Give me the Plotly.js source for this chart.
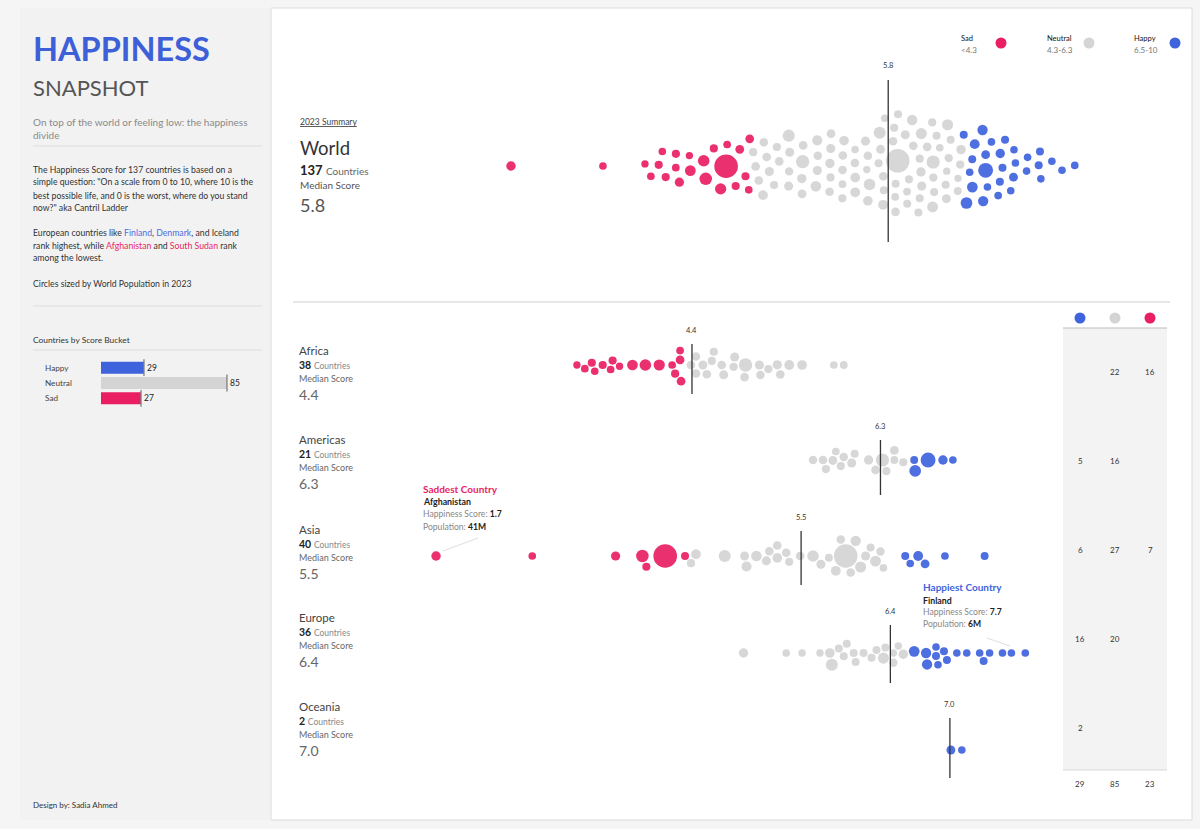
<!DOCTYPE html>
<html><head><meta charset="utf-8">
<script src="https://cdn.plot.ly/plotly-3.0.1.min.js"></script>
<style>html,body{margin:0;padding:0;background:#f5f5f5;}#chart{width:1200px;height:829px;}</style>
</head><body><div id="chart"></div>
<script>
// ---------------- DATA ----------------
const regionNames = ['Africa','Americas','Asia','Europe','Oceania'];
const regionMedians = [4.4, 6.3, 5.5, 6.4, 7.0];
const worldMedian = 5.8;
const worldCount = 137;

const africaScores = [3.24,3.32,3.39,3.42,3.50,3.58,3.60,3.67,3.80,3.93,4.07,4.20,4.23,4.28,4.28,4.29,
  4.39,4.44,4.44,4.51,4.55,4.60,4.62,4.70,4.72,4.82,4.83,4.93,4.94,5.08,5.09,5.17,5.26,5.29,5.38,5.51,5.83,5.93];
const africaPops = [3,6,12,5,12,6,12,3,85,125,105,6,12,22,6,22,
  22,20,18,30,20,12,12,20,30,15,30,20,224,30,18,12,35,20,50,48,6,7];
const africaBuckets = ['Sad','Sad','Sad','Sad','Sad','Sad','Sad','Sad','Sad','Sad','Sad','Sad','Sad','Sad','Sad','Sad',
  'Neutral','Neutral','Neutral','Neutral','Neutral','Neutral','Neutral','Neutral','Neutral','Neutral','Neutral',
  'Neutral','Neutral','Neutral','Neutral','Neutral','Neutral','Neutral','Neutral','Neutral','Neutral','Neutral'];

const americasScores = [5.62,5.72,5.75,5.82,5.85,5.90,5.93,6.01,6.04,6.18,6.25,6.32,6.36,6.44,6.44,6.53,
  6.64,6.65,6.78,6.93,7.03];
const americasPops = [18,20,12,25,6,12,18,30,10,35,20,216,10,8,25,12, 8,128,335,39,5];
const americasBuckets = ['Neutral','Neutral','Neutral','Neutral','Neutral','Neutral','Neutral','Neutral',
  'Neutral','Neutral','Neutral','Neutral','Neutral','Neutral','Neutral','Neutral',
  'Happy','Happy','Happy','Happy','Happy'];

const asiaScores = [1.82,2.79,3.63,3.90,3.94,4.13,4.33,
  4.39,4.44,4.73,4.93,4.95,5.05,5.15,5.18,5.26,5.26,5.35,5.38,5.49,5.62,
  5.70,5.78,5.85,5.90,5.95,6.00,6.05,6.10,6.15,6.20,6.25,6.30,6.33,
  6.55,6.60,6.68,6.75,6.95,7.35];
const asiaPops = [41,5.5,34,173,11,1430,10,
  12,50,150,25,60,80,30,20,45,20,20,12,20,120,
  30,10,50,20,1410,20,70,100,30,10,90,15,5,
  10,5,52,24,6,9.5];
const asiaBuckets = ['Sad','Sad','Sad','Sad','Sad','Sad','Sad',
  'Neutral','Neutral','Neutral','Neutral','Neutral','Neutral','Neutral','Neutral','Neutral','Neutral',
  'Neutral','Neutral','Neutral','Neutral','Neutral','Neutral','Neutral','Neutral','Neutral','Neutral',
  'Neutral','Neutral','Neutral','Neutral','Neutral','Neutral','Neutral',
  'Happy','Happy','Happy','Happy','Happy','Happy'];

const europeScores = [4.92,5.35,5.51,5.69,5.79,5.81,5.88,5.93,5.96,6.03,6.05,6.13,6.21,6.26,6.33,6.35,6.43,6.43,6.48,6.53,
  6.64,6.76,6.77,6.86,6.86,6.88,6.94,6.97,7.07,7.17,7.30,7.34,7.40,7.53,7.62,7.76];
const europePops = [37,6,4,3,45,144,10,10,10,10,10,10,10,10,100,10,3,15,3,40,
  84,68,68,10,5,5,10,10,5,5,5,10,5,5,5,5.5];
const europeBuckets = ['Neutral','Neutral','Neutral','Neutral','Neutral','Neutral','Neutral','Neutral','Neutral','Neutral',
  'Neutral','Neutral','Neutral','Neutral','Neutral','Neutral','Neutral','Neutral','Neutral','Neutral',
  'Happy','Happy','Happy','Happy','Happy','Happy','Happy','Happy','Happy','Happy','Happy','Happy','Happy','Happy','Happy','Happy'];

const oceaniaScores = [7.01, 7.12];
const oceaniaPops = [26, 5];
const oceaniaBuckets = ['Happy','Happy'];

const bucketNames = ['Happy','Neutral','Sad'];
const bucketTotals = [29, 85, 27];

// ---------------- STYLE / LAYOUT ----------------
const W = 1200, H = 829;
const F = 'Lato, "Open Sans", sans-serif';
const COL = {Happy:'#3f63dd', Neutral:'#d4d4d4', Sad:'#e91e63'};
const px = x => x / W, py = y => 1 - y / H;

// pixel scales (score -> px) for the world swarm and the region swarms
const WA = 338.5, WB = 94.78;
const RA = 255.5, RB = 99.2;

const regionScores = [africaScores, americasScores, asiaScores, europeScores, oceaniaScores];
const regionPops = [africaPops, americasPops, asiaPops, europePops, oceaniaPops];
const regionBuckets = [africaBuckets, americasBuckets, asiaBuckets, europeBuckets, oceaniaBuckets];
const rowY = [365, 460, 556, 653, 750];
const labelY = [350, 439, 529, 617, 706];
const medTop = [344, 440, 531, 625, 718], medBot = [394, 495, 585, 683, 778];
const tableY = [372, 461, 550, 639, 728];

const radius = p => 3.3 + 0.225 * Math.sqrt(p);

// greedy beeswarm (y offsets in px)
function swarm(xs, rs, pad, bigR) {
  const idx = xs.map((_, i) => i).sort((i, j) => {
    const bi = rs[i] > bigR ? 0 : 1, bj = rs[j] > bigR ? 0 : 1;
    return bi !== bj ? bi - bj : xs[i] - xs[j];
  });
  const placed = [], ys = new Array(xs.length).fill(0);
  for (const i of idx) {
    const cands = [0];
    for (const p of placed) {
      const d = rs[i] + p.r + pad, dx = xs[i] - p.x;
      if (Math.abs(dx) < d) { const dy = Math.sqrt(d * d - dx * dx); cands.push(p.y + dy, p.y - dy); }
    }
    cands.sort((a, b) => Math.abs(a) - Math.abs(b));
    let best = 0;
    for (const c of cands) {
      let ok = true;
      for (const p of placed) {
        const d = rs[i] + p.r + pad - 0.01, dx = xs[i] - p.x, dy = c - p.y;
        if (dx * dx + dy * dy < d * d) { ok = false; break; }
      }
      if (ok) { best = c; break; }
    }
    ys[i] = best; placed.push({x: xs[i], y: best, r: rs[i]});
  }
  return ys;
}
// force relaxation (pull to target x and to centre line, resolve collisions)
function relax(tx, y0, rs, pad, iters, kx, ky) {
  const n = tx.length, X = tx.slice(), Y = y0.slice();
  for (let it = 0; it < iters; it++) {
    for (let i = 0; i < n; i++) { X[i] += (tx[i] - X[i]) * kx; Y[i] += (0 - Y[i]) * ky; }
    for (let pass = 0; pass < 2; pass++) {
      for (let i = 0; i < n; i++) for (let j = i + 1; j < n; j++) {
        const dx = X[j] - X[i], dy = Y[j] - Y[i], d = rs[i] + rs[j] + pad, d2 = dx * dx + dy * dy;
        if (d2 < d * d) {
          const dist = Math.sqrt(d2) || 0.01, ov = (d - dist) / 2, ux = dx / dist, uy = dy / dist;
          X[i] -= ux * ov; Y[i] -= uy * ov; X[j] += ux * ov; Y[j] += uy * ov;
        }
      }
    }
  }
  return {X, Y};
}

const traces = [];
// region rows
regionScores.forEach((sc, k) => {
  const rs = regionPops[k].map(radius);
  const off = swarm(sc.map(s => RA + RB * s), rs, 1.2, 6.5);
  traces.push({
    type: 'scatter', mode: 'markers', xaxis: 'x2', yaxis: 'y',
    x: sc, y: off.map(o => rowY[k] + o),
    marker: {size: rs.map(r => 2 * r), color: regionBuckets[k].map(b => COL[b]), opacity: 0.92, line: {width: 0}},
    hovertemplate: regionNames[k] + ': %{x}<extra></extra>', showlegend: false
  });
});
// world
const allScores = [].concat(...regionScores), allPops = [].concat(...regionPops), allBuckets = [].concat(...regionBuckets);
const wr = allPops.map(radius);
const wx = allScores.map(s => WA + WB * s);
const woff = swarm(wx, wr, 6, 6.5);
const rel = relax(wx, woff, wr, 6, 250, 0.06, 0.03);
traces.push({
  type: 'scatter', mode: 'markers', xaxis: 'x', yaxis: 'y',
  x: rel.X.map(v => (v - WA) / WB), y: rel.Y.map(o => 166 + o), customdata: allScores,
  marker: {size: wr.map(r => 2 * r), color: allBuckets.map(b => COL[b]), opacity: 0.92, line: {width: 0}},
  hovertemplate: 'World: %{customdata}<extra></extra>', showlegend: false
});
// bucket bars
traces.push({
  type: 'bar', orientation: 'h', xaxis: 'x3', yaxis: 'y3',
  x: bucketTotals, y: bucketNames, width: 0.78,
  marker: {color: bucketNames.map(b => COL[b]), line: {width: 0}},
  text: bucketTotals.map(String), textposition: 'outside', cliponaxis: false,
  textfont: {family: F, size: 8.5, color: '#222'}, hoverinfo: 'x+y', showlegend: false
});
traces.push({
  type: 'scatter', mode: 'markers', xaxis: 'x3', yaxis: 'y3',
  x: bucketTotals, y: bucketNames, cliponaxis: false,
  marker: {symbol: 'line-ns-open', size: 12, line: {color: '#777', width: 1.3}}, hoverinfo: 'skip', showlegend: false
});

// ---------------- SHAPES ----------------
const shapes = [];
const rect = (x0, y0, x1, y1, fill, line) => shapes.push({type: 'rect', xref: 'paper', yref: 'paper', x0: px(x0), x1: px(x1), y0: py(y1), y1: py(y0), fillcolor: fill, line: line || {width: 0}, layer: 'below'});
const hline = (x0, x1, y, color, w) => shapes.push({type: 'line', xref: 'paper', yref: 'paper', x0: px(x0), x1: px(x1), y0: py(y), y1: py(y), line: {color, width: w || 1}, layer: 'below'});
const circ = (cx, cy, r, fill) => shapes.push({type: 'circle', xref: 'paper', yref: 'paper', x0: px(cx - r), x1: px(cx + r), y0: py(cy + r), y1: py(cy - r), fillcolor: fill, line: {width: 0}});

rect(20, 8, 270, 820, '#f2f2f2');
rect(271, 8, 1192, 820, '#ffffff', {color: '#dcdcdc', width: 1});
hline(33, 262, 146, '#dddddd');
hline(33, 262, 306, '#dddddd');
hline(33, 262, 350, '#dddddd');
hline(293, 1170, 302, '#cfcfcf');
rect(1063, 328, 1167, 770, '#f3f3f3');
hline(1063, 1167, 328, '#bdbdbd');
hline(1063, 1167, 770, '#d8d8d8');
// legend + table header dots
circ(1001, 43, 5.5, COL.Sad); circ(1089, 43, 5.5, COL.Neutral); circ(1175, 43, 5.5, COL.Happy);
const tableX = {Happy: 1080, Neutral: 1115, Sad: 1150};
bucketNames.forEach(b => circ(tableX[b], 318, 5.5, COL[b]));
// median lines
shapes.push({type: 'line', xref: 'x', yref: 'paper', x0: worldMedian, x1: worldMedian, y0: py(242), y1: py(80), line: {color: '#333', width: 1.3}});
regionMedians.forEach((m, k) => shapes.push({type: 'line', xref: 'x2', yref: 'paper', x0: m, x1: m, y0: py(medBot[k]), y1: py(medTop[k]), line: {color: '#333', width: 1.3}}));
// connector lines of callouts
shapes.push({type: 'line', xref: 'paper', yref: 'paper', x0: px(443), x1: px(478), y0: py(551), y1: py(538), line: {color: '#dedede', width: 1}});
shapes.push({type: 'line', xref: 'paper', yref: 'paper', x0: px(987), x1: px(1010), y0: py(638), y1: py(646), line: {color: '#dedede', width: 1}});

// ---------------- ANNOTATIONS ----------------
const anns = [];
const ann = (x, y, text, size, color, o) => anns.push(Object.assign({x: px(x - 2), y: py(y), xref: 'paper', yref: 'paper', text, showarrow: false, xanchor: 'left', yanchor: 'middle', font: {family: F, size, color}}, o || {}));

ann(33, 48, '<b>HAPPINESS</b>', 32.5, '#3d5fd8');
ann(33, 88, 'SNAPSHOT', 22, '#555555');
ann(33, 122, 'On top of the world or feeling low: the happiness', 10, '#8a8a8a');
ann(33, 135, 'divide', 10, '#8a8a8a');
const para = [
  [169, 'The Happiness Score for 137 countries is based on a'],
  [182, 'simple question: "On a scale from 0 to 10, where 10 is the'],
  [195, 'best possible life, and 0 is the worst, where do you stand'],
  [207, 'now?" aka Cantril Ladder'],
  [232, 'European countries like <span style="color:#4a6ee0">Finland</span>, <span style="color:#4a6ee0">Denmark</span>, and Iceland'],
  [245, 'rank highest, while <span style="color:#e91e63">Afghanistan</span> and <span style="color:#e91e63">South Sudan</span> rank'],
  [258, 'among the lowest.'],
  [283, 'Circles sized by World Population in 2023']
];
para.forEach(([y, t]) => ann(33, y, t, 8.7, '#333333'));
ann(33, 340, 'Countries by Score Bucket', 8.4, '#333333');
bucketNames.forEach((b, i) => ann(45, 368 + 15 * i, b, 8.2, '#444444'));
ann(33, 805, 'Design by: Sadia Ahmed', 8, '#333333');

// world summary
ann(300, 122, '<span style="text-decoration:underline">2023 Summary</span>', 8.5, '#444444');
ann(300, 148, 'World', 18.5, '#333333');
ann(300, 170, '<b>' + worldCount + '</b> <span style="font-size:10px;color:#666">Countries</span>', 13, '#222222');
ann(300, 185, 'Median Score', 10, '#555555');
ann(300, 205, worldMedian.toFixed(1), 18, '#555555');
anns.push({x: worldMedian, xref: 'x', y: py(66), yref: 'paper', text: worldMedian.toFixed(1), showarrow: false, xanchor: 'center', yanchor: 'middle', font: {family: F, size: 7.5, color: '#333'}});

// legend text
[['Sad', '<4.3', 961], ['Neutral', '4.3-6.3', 1047], ['Happy', '6.5-10', 1134]].forEach(([a, b, x]) => {
  ann(x, 38, a, 7.5, '#111111'); ann(x, 50, b.replace('<', '&lt;'), 8, '#777777');
});

// region labels, medians, table
const totals = {Happy: 0, Neutral: 0, Sad: 0};
regionNames.forEach((name, k) => {
  const y = labelY[k];
  ann(299, y, name, 11.5, '#444444');
  ann(299, y + 15, '<b>' + regionScores[k].length + '</b> <span style="font-size:8.5px;color:#888">Countries</span>', 10.5, '#222222');
  ann(299, y + 28, 'Median Score', 9, '#666666');
  ann(299, y + 44, regionMedians[k].toFixed(1), 14, '#666666');
  anns.push({x: regionMedians[k], xref: 'x2', y: py(medTop[k] - 14), yref: 'paper', text: regionMedians[k].toFixed(1), showarrow: false, xanchor: 'center', yanchor: 'middle', font: {family: F, size: 7.5, color: '#333'}});
  bucketNames.forEach(b => {
    const n = regionBuckets[k].filter(v => v === b).length;
    totals[b] += n;
    if (n > 0) anns.push({x: px(tableX[b]), y: py(tableY[k]), xref: 'paper', yref: 'paper', text: String(n), showarrow: false, xanchor: 'center', yanchor: 'middle', font: {family: F, size: 8, color: '#333'}});
  });
});
bucketNames.forEach(b => anns.push({x: px(tableX[b]), y: py(784), xref: 'paper', yref: 'paper', text: String(totals[b]), showarrow: false, xanchor: 'center', yanchor: 'middle', font: {family: F, size: 8, color: '#333'}}));

// callouts
ann(423, 489, '<b>Saddest Country</b>', 10, COL.Sad);
ann(423, 502, '<b>Afghanistan</b>', 8.8, '#222222');
ann(423, 514, 'Happiness Score: <b><span style="color:#222">1.7</span></b>', 8.6, '#888888');
ann(423, 527, 'Population: <b><span style="color:#222">41M</span></b>', 8.6, '#888888');
ann(923, 587, '<b>Happiest Country</b>', 10, COL.Happy);
ann(923, 600, '<b>Finland</b>', 8.8, '#222222');
ann(923, 612, 'Happiness Score: <b><span style="color:#222">7.7</span></b>', 8.6, '#888888');
ann(923, 624, 'Population: <b><span style="color:#222">6M</span></b>', 8.6, '#888888');

const layout = {
  width: W, height: H, margin: {l: 0, r: 0, t: 0, b: 0},
  paper_bgcolor: '#f5f5f5', plot_bgcolor: 'rgba(0,0,0,0)',
  showlegend: false, hovermode: 'closest',
  xaxis: {domain: [0, 1], range: [(0 - WA) / WB, (W - WA) / WB], visible: false, fixedrange: true},
  xaxis2: {domain: [0, 1], range: [(0 - RA) / RB, (W - RA) / RB], visible: false, overlaying: 'x', anchor: 'y', fixedrange: true},
  yaxis: {domain: [0, 1], range: [H, 0], visible: false, fixedrange: true},
  xaxis3: {domain: [px(101), px(260)], range: [0, 107.3], visible: false, anchor: 'y3', fixedrange: true},
  yaxis3: {domain: [py(406), py(360)], range: [-0.5, 2.5], type: 'category', categoryorder: 'array', categoryarray: ['Sad', 'Neutral', 'Happy'], visible: false, anchor: 'x3', fixedrange: true},
  shapes, annotations: anns
};
Plotly.newPlot('chart', traces, layout, {displayModeBar: false});
</script></body></html>
